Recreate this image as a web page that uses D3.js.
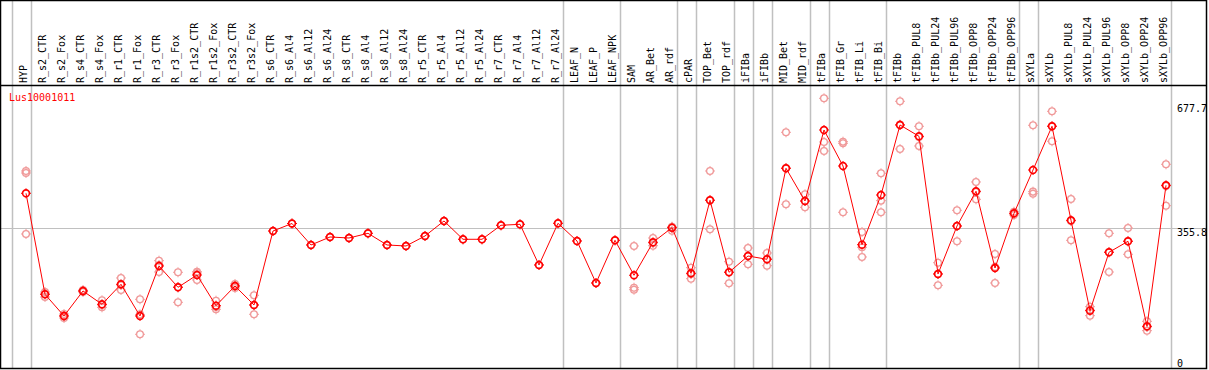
<!DOCTYPE html>
<html>
<head>
<meta charset="utf-8">
<script src="https://cdn.jsdelivr.net/npm/d3@7"></script>
<style>
  html, body { margin: 0; padding: 0; background: #fff; }
  svg { display: block; }
  text { font-family: "DejaVu Sans Mono", "Liberation Mono", monospace; font-size: 10px; }
</style>
</head>
<body>
<svg id="chart" width="1209" height="370"></svg>
<script>
const geneName = "Lus10001011";

const categories = [
  "HYP","R_s2_CTR","R_s2_Fox","R_s4_CTR","R_s4_Fox","R_r1_CTR","R_r1_Fox","R_r3_CTR","R_r3_Fox",
  "R_r1s2_CTR","R_r1s2_Fox","R_r3s2_CTR","R_r3s2_Fox","R_s6_CTR","R_s6_Al4","R_s6_Al12","R_s6_Al24",
  "R_s8_CTR","R_s8_Al4","R_s8_Al12","R_s8_Al24","R_r5_CTR","R_r5_Al4","R_r5_Al12","R_r5_Al24",
  "R_r7_CTR","R_r7_Al4","R_r7_Al12","R_r7_Al24","LEAF_N","LEAF_P","LEAF_NPK","SAM","AR_Bet","AR_rdf",
  "cPAR","TOP_Bet","TOP_rdf","iFIBa","iFIBb","MID_Bet","MID_rdf","tFIBa","tFIB_Gr","tFIB_Li","tFIB_Bi",
  "tFIBb","tFIBb_PUL8","tFIBb_PUL24","tFIBb_PUL96","tFIBb_OPP8","tFIBb_OPP24","tFIBb_OPP96",
  "sXYLa","sXYLb","sXYLb_PUL8","sXYLb_PUL24","sXYLb_PUL96","sXYLb_OPP8","sXYLb_OPP24","sXYLb_OPP96"
];

const meanValues = [
  442.5, 192.4, 138.7, 200.6, 167.6, 217.2, 138.7, 262.5, 209.7,
  240.2, 164.2, 213.0, 165.9, 349.1, 367.7, 314.5, 334.3,
  331.8, 343.4, 314.5, 312.0, 336.8, 373.9, 328.6, 328.6,
  363.3, 365.7, 265.0, 368.2, 324.4, 220.4, 326.1, 239.5, 321.2, 357.3,
  244.4, 425.2, 246.9, 287.2, 279.1, 504.4, 423.4, 599.2, 510.1, 315.2, 438.3,
  611.6, 583.6, 242.7, 361.5, 447.5, 257.5, 393.0,
  500.2, 608.4, 375.6, 151.8, 296.4, 323.6, 113.2, 462.3
];

const replicateValues = [
  [497.7, 492.8, 341.7], [198.1, 193.1, 185.7], [143.6, 138.7, 133.7], [203.0, 200.6, 198.1],
  [177.5, 165.9, 160.2], [232.8, 215.4, 203.0], [180.0, 142.6, 93.4], [275.6, 265.0, 247.6],
  [246.9, 210.5, 172.6], [248.4, 245.1, 227.8], [176.6, 161.0, 155.3], [217.9, 213.0, 208.0],
  [189.9, 165.9, 142.9], [349.1], [367.7], [314.5], [334.3],
  [331.8], [343.4], [314.5], [312.0], [336.8], [373.9], [328.6], [328.6],
  [363.3], [365.7], [265.0], [368.2], [324.4], [220.4], [326.1],
  [312.0, 208.7, 203.8], [331.8, 319.4, 312.7], [359.8, 356.6, 349.9],
  [258.3, 242.7, 231.0], [497.7, 425.9, 353.4], [273.1, 247.6, 219.6], [307.0, 287.2, 266.7],
  [294.7, 279.8, 263.2], [593.5, 505.1, 415.3], [440.0, 423.4, 407.8], [677.7, 569.5, 547.2],
  [570.3, 566.3, 395.5], [346.7, 308.8, 284.8], [492.0, 424.2, 395.5],
  [670.3, 612.4, 552.2], [608.4, 581.9, 559.6], [270.6, 242.7, 214.7], [400.4, 361.5, 323.6],
  [470.5, 445.7, 427.6], [292.2, 260.0, 220.4], [396.9, 391.2, 388.8],
  [610.9, 446.5, 441.5], [645.5, 609.1, 571.3], [428.4, 373.9, 326.1], [161.7, 153.5, 139.4],
  [343.4, 297.1, 247.6], [356.6, 324.4, 291.5], [125.5, 111.4, 102.3], [514.3, 460.6, 411.8]
];

const groupBreaksAfter = ["HYP","R_r7_Al24","LEAF_NPK","AR_rdf","cPAR","TOP_rdf","iFIBa","iFIBb",
  "MID_rdf","tFIBa","tFIB_Bi","tFIBb_OPP96","sXYLa","sXYLb_OPP96"];

const yTickValues = [0, 355.8, 677.7];
const yGridValues = [355.8];

// ---------- drawing ----------
(function draw() {
  const W = 1209, H = 370;
  const svg = d3.select("#chart");
  const bLeft = 0.5, bRight = 1206.5, bTop = 0.5, headerBottom = 85.5, bBottom = 368.5;

  const x = d3.scalePoint().domain(categories).range([26, 1166]);
  const y = d3.scaleLinear().domain([0, 677.7]).range([372, 98.3]);
  const step = x.step();

  svg.append("rect").attr("width", W).attr("height", H).attr("fill", "#fff");

  // vertical group separators
  const sepX = [x(categories[0]) - step + 4.5].concat(groupBreaksAfter.map(c => x(c) + 4.5));
  svg.append("g").selectAll("line").data(sepX).join("line")
    .attr("x1", d => Math.round(d) + 0.5).attr("x2", d => Math.round(d) + 0.5)
    .attr("y1", 0).attr("y2", bBottom)
    .attr("stroke", "#c0c0c0").attr("stroke-width", 1.5);

  // horizontal grid line
  svg.append("g").selectAll("line").data(yGridValues).join("line")
    .attr("x1", 0).attr("x2", bRight)
    .attr("y1", d => Math.round(y(d)) + 0.5).attr("y2", d => Math.round(y(d)) + 0.5)
    .attr("stroke", "#c0c0c0").attr("stroke-width", 1);

  function marker(g, color, sw) {
    g.append("circle").attr("r", 3.4).attr("fill", "none").attr("stroke", color).attr("stroke-width", sw);
    g.append("path").attr("d", "M0,-5V-3.5M0,3.5V5M-5,0H-3.5M3.5,0H5")
      .attr("stroke", color).attr("stroke-width", 1).attr("fill", "none");
  }

  // replicates
  const repPts = [];
  categories.forEach((c, i) => replicateValues[i].forEach(v => repPts.push({c, v})));
  svg.append("g").selectAll("g").data(repPts).join("g")
    .attr("transform", d => `translate(${x(d.c)},${y(d.v)})`)
    .each(function() { marker(d3.select(this), "#f09a9a", 1.3); });

  // mean line
  const line = d3.line().x((d, i) => x(categories[i])).y(d => y(d));
  svg.append("path").datum(meanValues).attr("d", line)
    .attr("fill", "none").attr("stroke", "#ff0000").attr("stroke-width", 1);

  // mean markers
  svg.append("g").selectAll("g").data(meanValues).join("g")
    .attr("transform", (d, i) => `translate(${x(categories[i])},${y(d)})`)
    .each(function() { marker(d3.select(this), "#ff0000", 1.6); });

  // category labels (rotated)
  svg.append("g").selectAll("text").data(categories).join("text")
    .attr("transform", d => `translate(${x(d) + 1},83) rotate(-90)`)
    .attr("fill", "#000").text(d => d);

  // gene name
  svg.append("text").attr("x", 9).attr("y", 101).attr("fill", "#ff0000").text(geneName);

  // y tick labels
  svg.append("g").selectAll("text").data(yTickValues).join("text")
    .attr("x", 1177)
    .attr("y", d => Math.min(367, Math.max(112, y(d) + 8)))
    .attr("fill", "#000")
    .text(d => d === 0 ? "0" : d3.format(".1f")(d));

  // borders
  const b = svg.append("g").attr("stroke", "#000").attr("stroke-width", 1.5).attr("fill", "none");
  b.append("rect").attr("x", bLeft).attr("y", bTop).attr("width", bRight - bLeft).attr("height", bBottom - bTop);
  b.append("line").attr("x1", 0).attr("x2", bRight).attr("y1", headerBottom).attr("y2", headerBottom);
})();
</script>
</body>
</html>
